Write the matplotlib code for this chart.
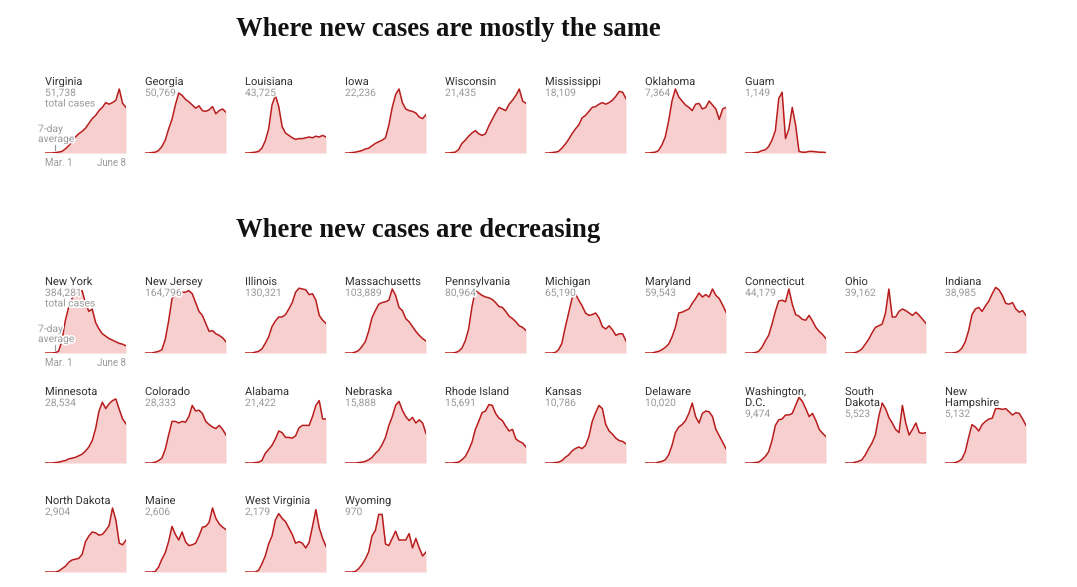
import matplotlib
matplotlib.use('Agg')
import matplotlib.pyplot as plt
import matplotlib.patheffects as pe
import numpy as np

# ---------------- data (7-day average, % of panel height, sampled every ~4 days Mar. 1 - June 8) -------------
virginia      = [0, 0, 0, 0.5, 1, 2, 5, 9, 14, 20, 24, 27, 31, 37, 43, 47, 53, 57, 63, 61, 63, 66, 80, 62, 57]
georgia       = [0, 0, 0.5, 1, 3, 8, 16, 30, 42, 60, 75, 72, 67, 64, 60, 56, 59, 53, 52, 54, 58, 49, 53, 55, 51]
louisiana     = [0, 0, 0.5, 1, 2, 6, 15, 30, 60, 72, 58, 33, 25, 22, 19, 17, 18, 18, 19, 20, 19, 21, 20, 22, 20]
iowa          = [0, 0, 0.5, 1, 2, 3, 5, 6, 9, 12, 14, 16, 19, 35, 57, 73, 80, 63, 55, 53, 52, 50, 45, 43, 48]
wisconsin     = [0, 0, 0.5, 1, 4, 12, 16, 21, 25, 28, 24, 22, 24, 34, 42, 50, 57, 55, 53, 61, 66, 72, 80, 65, 62]
mississippi   = [0, 0, 0.5, 1, 2, 6, 11, 17, 24, 30, 35, 44, 47, 52, 57, 58, 61, 63, 61, 63, 66, 71, 77, 76, 68]
oklahoma      = [0, 0, 0.5, 1, 3, 10, 20, 40, 65, 80, 70, 65, 60, 57, 53, 61, 62, 55, 57, 65, 60, 55, 42, 55, 57]
guam          = [0, 0, 0, 0.5, 1, 3, 4, 8, 16, 28, 68, 76, 18, 30, 57, 35, 2, 1, 1, 2, 2, 1.5, 1, 1, 0.5]

new_york      = [0, 0, 0, 0.5, 2, 15, 40, 57, 68, 74, 76, 78, 62, 52, 55, 38, 30, 24, 21, 18, 16, 14, 12, 11, 9]
new_jersey    = [0, 0, 0, 1, 2, 4, 17, 40, 68, 73, 75, 76, 76, 78, 74, 63, 52, 47, 37, 27, 28, 24, 22, 19, 14]
illinois      = [0, 0, 0, 1, 2, 5, 12, 20, 33, 40, 45, 45, 48, 55, 63, 76, 81, 80, 79, 73, 74, 66, 47, 41, 37]
massachusetts = [0, 0, 0, 1, 3, 8, 14, 27, 44, 53, 61, 63, 64, 66, 80, 72, 57, 53, 43, 39, 33, 27, 22, 18, 15]
pennsylvania  = [0, 0, 0, 0.5, 2, 6, 15, 30, 58, 78, 75, 72, 70, 69, 67, 63, 58, 57, 52, 46, 43, 39, 34, 32, 28]
michigan      = [0, 0, 0, 0.5, 4, 12, 32, 50, 68, 74, 66, 59, 50, 47, 48, 50, 44, 33, 30, 34, 29, 22, 24, 24, 15]
maryland      = [0, 0, 0, 1, 2, 4, 7, 11, 20, 32, 50, 51, 53, 55, 62, 68, 75, 70, 73, 70, 80, 72, 68, 60, 51]
connecticut   = [0, 0, 0, 0.5, 2, 7, 15, 22, 36, 52, 65, 66, 64, 80, 61, 48, 46, 42, 41, 47, 40, 32, 27, 23, 18]
ohio          = [0, 0, 0, 0.5, 2, 5, 11, 17, 25, 32, 34, 36, 50, 80, 45, 45, 52, 55, 53, 50, 47, 51, 47, 42, 37]
indiana       = [0, 0, 0, 0.5, 2, 6, 14, 28, 48, 55, 57, 52, 59, 65, 74, 82, 79, 72, 62, 61, 63, 55, 51, 53, 47]
minnesota     = [0, 0, 0, 0.5, 1, 2, 3, 5, 6, 7, 9, 11, 15, 20, 28, 43, 65, 76, 68, 74, 78, 80, 67, 55, 49]
colorado      = [0, 0, 0, 1, 3, 6, 17, 35, 52, 52, 50, 52, 51, 58, 72, 65, 66, 62, 52, 48, 45, 43, 47, 42, 35]
alabama       = [0, 0, 0, 0.5, 1, 3, 12, 17, 22, 30, 40, 38, 32, 32, 31, 34, 44, 47, 47, 47, 58, 72, 78, 55, 55]
nebraska      = [0, 0, 0, 0, 0.5, 1, 2, 4, 7, 12, 16, 23, 32, 47, 58, 72, 77, 66, 58, 53, 57, 50, 54, 50, 37]
rhode_island  = [0, 0, 0, 0.5, 1, 4, 8, 16, 26, 42, 52, 63, 65, 73, 72, 62, 56, 53, 46, 40, 42, 30, 27, 25, 20]
kansas        = [0, 0, 0, 0.5, 1, 3, 7, 10, 15, 18, 20, 18, 22, 33, 52, 63, 72, 68, 48, 40, 36, 31, 28, 27, 24]
delaware      = [0, 0, 0, 0, 1, 2, 4, 10, 22, 38, 45, 48, 53, 62, 75, 58, 50, 62, 65, 64, 58, 42, 34, 26, 18]
washington_dc = [0, 0, 0, 0.5, 1, 4, 8, 14, 28, 47, 54, 55, 60, 60, 62, 72, 82, 77, 68, 58, 62, 53, 42, 37, 33]
south_dakota  = [0, 0, 0, 1, 2, 4, 10, 18, 25, 35, 58, 75, 68, 57, 50, 42, 38, 72, 50, 35, 42, 50, 38, 37, 38]
new_hampshire = [0, 0, 0, 0.5, 2, 5, 14, 32, 48, 45, 40, 48, 52, 55, 56, 68, 68, 67, 68, 64, 60, 63, 62, 55, 47]
north_dakota  = [0, 0, 0, 0, 1, 4, 7, 12, 15, 16, 17, 22, 38, 45, 50, 49, 46, 47, 52, 58, 80, 65, 36, 34, 40]
maine         = [0, 0, 0, 0.5, 6, 16, 24, 38, 57, 47, 40, 50, 38, 33, 34, 36, 45, 56, 57, 62, 80, 67, 60, 56, 53]
west_virginia = [0, 0, 0, 0, 2, 10, 20, 35, 45, 65, 73, 67, 63, 55, 47, 36, 38, 36, 30, 37, 57, 78, 55, 42, 32]
wyoming       = [0, 0, 0, 0.5, 4, 9, 16, 25, 45, 52, 72, 72, 35, 33, 42, 51, 40, 40, 40, 48, 30, 42, 30, 20, 25]

same_names  = ["Virginia", "Georgia", "Louisiana", "Iowa", "Wisconsin", "Mississippi", "Oklahoma", "Guam"]
same_totals = ["51,738", "50,769", "43,725", "22,236", "21,435", "18,109", "7,364", "1,149"]
same_series = [virginia, georgia, louisiana, iowa, wisconsin, mississippi, oklahoma, guam]

dec_names  = ["New York", "New Jersey", "Illinois", "Massachusetts", "Pennsylvania", "Michigan",
              "Maryland", "Connecticut", "Ohio", "Indiana",
              "Minnesota", "Colorado", "Alabama", "Nebraska", "Rhode Island", "Kansas",
              "Delaware", "Washington,\nD.C.", "South\nDakota", "New\nHampshire",
              "North Dakota", "Maine", "West Virginia", "Wyoming"]
dec_totals = ["384,281", "164,796", "130,321", "103,889", "80,964", "65,190", "59,543", "44,179",
              "39,162", "38,985", "28,534", "28,333", "21,422", "15,888", "15,691", "10,786",
              "10,020", "9,474", "5,523", "5,132", "2,904", "2,606", "2,179", "970"]
dec_series = [new_york, new_jersey, illinois, massachusetts, pennsylvania, michigan, maryland,
              connecticut, ohio, indiana, minnesota, colorado, alabama, nebraska, rhode_island,
              kansas, delaware, washington_dc, south_dakota, new_hampshire, north_dakota, maine,
              west_virginia, wyoming]

titles = ["Where new cases are mostly the same", "Where new cases are decreasing"]
date_labels = ["Mar. 1", "June 8"]

# ---------------- layout ----------------
W, H = 1077, 587
fig = plt.figure(figsize=(W / 100, H / 100), dpi=100)
fig.patch.set_facecolor('white')

def fx(px):
    return px / W

def fy(py):
    return 1 - py / H

LINE = '#b81c1c'
FILL = '#f8cfcf'
GRAY = '#9a9a9a'
DARK = '#333333'
SANS = ['Roboto', 'DejaVu Sans']
halo = [pe.withStroke(linewidth=2.2, foreground='white')]

PW, PH = 81, 80

def label(px, py, s, size, color, ha='left'):
    fig.text(fx(px), fy(py), s, fontsize=size, color=color, family=SANS,
             va='baseline', ha=ha, zorder=5, path_effects=halo)

def panel(left, bottom, name, total, vals, first=False):
    ax = fig.add_axes([fx(left), fy(bottom), fx(PW), PH / H])
    x = np.arange(len(vals))
    ax.fill_between(x, 0, vals, color=FILL, lw=0, zorder=1)
    ax.plot(x, vals, color=LINE, lw=1.1, zorder=3, solid_joinstyle='round')
    ax.set_xlim(0, len(vals) - 1)
    ax.set_ylim(0, 100)
    ax.axis('off')
    base = bottom - 68
    lines = name.split('\n')
    for k, ln in enumerate(lines):
        label(left, base + 11 * k, ln, 8, DARK)
    nb = base + 11 * len(lines)
    label(left, nb, total, 7.4, GRAY)
    if first:
        label(left, nb + 10.5, "total cases", 7.4, GRAY)
        label(left - 7, bottom - 21, "7-day", 7.4, GRAY)
        label(left - 7, bottom - 11, "average", 7.4, GRAY)
        fig.add_artist(plt.Line2D([fx(left + 10), fx(left + 10)], [fy(bottom - 8), fy(bottom - 3)],
                                  color=GRAY, lw=0.8))
        fig.text(fx(left), fy(bottom + 13), date_labels[0], fontsize=7, color=GRAY, family=SANS,
                 va='baseline', ha='left')
        fig.text(fx(left + PW), fy(bottom + 13), date_labels[1], fontsize=7, color=GRAY, family=SANS,
                 va='baseline', ha='right')

# titles
TSERIF = ['Liberation Serif', 'DejaVu Serif']
fig.text(fx(236), fy(29.5), titles[0], fontsize=19.2, fontweight='bold', family=TSERIF,
         color='#121212', va='center', ha='left')
fig.text(fx(236), fy(230.5), titles[1], fontsize=19.2, fontweight='bold', family=TSERIF,
         color='#121212', va='center', ha='left')

# group 1
for i, (n, t, v) in enumerate(zip(same_names, same_totals, same_series)):
    panel(45 + 100 * i, 153, n, t, v, first=(i == 0))

# group 2
row_bottoms = [353, 463, 572]
for i, (n, t, v) in enumerate(zip(dec_names, dec_totals, dec_series)):
    r, c = divmod(i, 10)
    panel(45 + 100 * c, row_bottoms[r], n, t, v, first=(i == 0))

fig.savefig('out.png', dpi=100, facecolor='white')
